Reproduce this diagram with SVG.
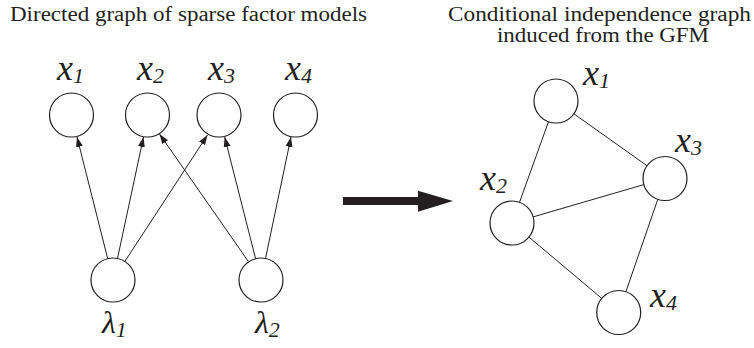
<svg xmlns="http://www.w3.org/2000/svg" width="754" height="348" viewBox="0 0 754 348">
<style>
.title{font-family:'Liberation Serif',serif;font-size:20px;fill:#231f20}
.m{font-family:'Liberation Serif',serif;font-style:italic;font-size:36px;fill:#231f20}
.l{font-family:'Liberation Serif',serif;font-style:italic;font-size:32px;fill:#231f20}
.s{font-size:22px}
.node{fill:#fff;stroke:#231f20;stroke-width:1.2}
.edge{stroke:#231f20;stroke-width:1;fill:none}
</style>
<defs>
<marker id="ah" markerUnits="userSpaceOnUse" markerWidth="11" markerHeight="8" refX="10" refY="3.5" orient="auto">
<path d="M0,0 L10,3.5 L0,7 z" fill="#231f20"/>
</marker>
</defs>
<text class="title" font-family="Liberation Serif" x="10" y="21" textLength="357" lengthAdjust="spacingAndGlyphs">Directed graph of sparse factor models</text>
<text class="title" font-family="Liberation Serif" x="448" y="21" textLength="303" lengthAdjust="spacingAndGlyphs">Conditional independence graph</text>
<text class="title" font-family="Liberation Serif" x="497" y="42" textLength="212" lengthAdjust="spacingAndGlyphs">induced from the GFM</text>

<g id="connectors">
<line class="edge" marker-end="url(#ah)" x1="107.7" y1="258.7" x2="77" y2="137"/>
<line class="edge" marker-end="url(#ah)" x1="117.5" y1="258.5" x2="143.5" y2="137"/>
<line class="edge" marker-end="url(#ah)" x1="124.8" y1="261.5" x2="207.5" y2="135"/>
<line class="edge" marker-end="url(#ah)" x1="248.6" y1="261.8" x2="159.5" y2="134"/>
<line class="edge" marker-end="url(#ah)" x1="255.6" y1="258.7" x2="224.7" y2="137"/>
<line class="edge" marker-end="url(#ah)" x1="265.5" y1="258.5" x2="291" y2="137"/>
<line class="edge" x1="548.5" y1="121.7" x2="519.5" y2="202.3"/>
<line class="edge" x1="573.9" y1="113.8" x2="647.1" y2="165.8"/>
<line class="edge" x1="533.1" y1="216.9" x2="643.9" y2="184.6"/>
<line class="edge" x1="528.9" y1="237.1" x2="601.8" y2="298.4"/>
<line class="edge" x1="657.8" y1="199.3" x2="625.9" y2="291.7"/>
<path d="M343,197 L418,197 L418,190.7 L453,201 L418,211.7 L418,205 L343,205 z" fill="#231f20"/>
</g>

<g id="L_x1"><circle class="node" cx="71.5" cy="115" r="22"/><text class="m" font-style="italic" x="57" y="80">x<tspan class="s" dy="3">1</tspan></text></g>
<g id="L_x2"><circle class="node" cx="147.5" cy="115" r="22"/><text class="m" font-style="italic" x="137" y="80">x<tspan class="s" dy="3">2</tspan></text></g>
<g id="L_x3"><circle class="node" cx="219" cy="115" r="22"/><text class="m" font-style="italic" x="208" y="80">x<tspan class="s" dy="3">3</tspan></text></g>
<g id="L_x4"><circle class="node" cx="295.5" cy="115" r="22"/><text class="m" font-style="italic" x="285" y="80">x<tspan class="s" dy="3">4</tspan></text></g>
<g id="lambda1"><circle class="node" cx="113" cy="280" r="22"/><text class="l" font-style="italic" x="102" y="333">λ<tspan class="s" dy="4">1</tspan></text></g>
<g id="lambda2"><circle class="node" cx="261" cy="280" r="22"/><text class="l" font-style="italic" x="255" y="333">λ<tspan class="s" dy="4">2</tspan></text></g>

<g id="R_x1"><circle class="node" cx="556" cy="101" r="22"/><text class="m" font-style="italic" x="583" y="85">x<tspan class="s" dy="3">1</tspan></text></g>
<g id="R_x2"><circle class="node" cx="512" cy="223" r="22"/><text class="m" font-style="italic" x="480" y="190">x<tspan class="s" dy="3">2</tspan></text></g>
<g id="R_x3"><circle class="node" cx="665" cy="178.5" r="22"/><text class="m" font-style="italic" x="675" y="152">x<tspan class="s" dy="3">3</tspan></text></g>
<g id="R_x4"><circle class="node" cx="618.7" cy="312.5" r="22"/><text class="m" font-style="italic" x="650" y="307">x<tspan class="s" dy="3">4</tspan></text></g>
</svg>
